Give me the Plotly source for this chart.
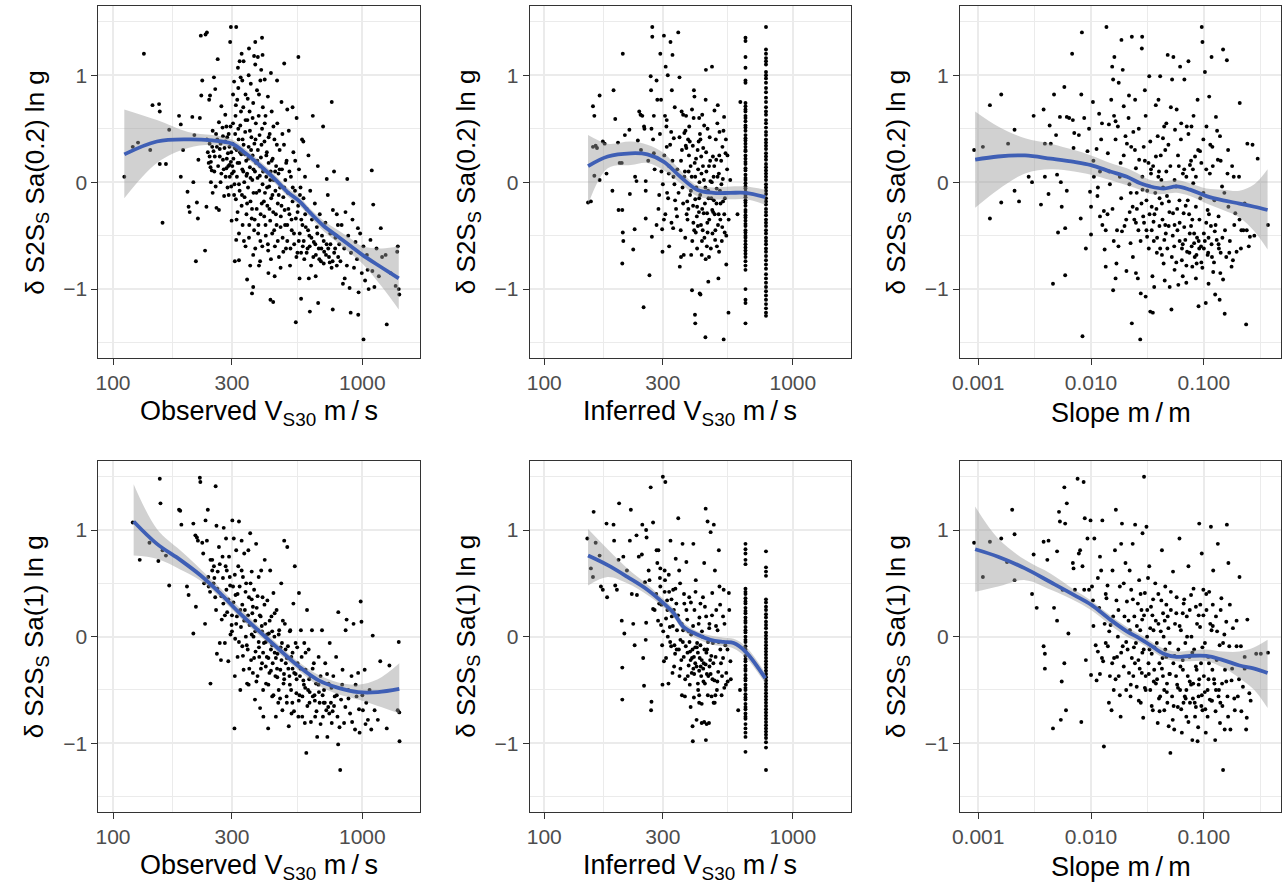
import plotly.graph_objects as go

FONT = "Liberation Sans, Arial, Helvetica, sans-serif"

# ---------------- Panel 1: Observed Vs30 vs dS2S Sa(0.2) ----------------
p1_pts = [
 (111,0.05),(120,0.33),(126,0.37),(133,1.20),(141,0.30),(144,0.72),(153,0.73),(154,0.66),(154,0.17),(163,0.17),
 (158,-0.38),(168,0.49),(184,0.62),(187,0.54),(187,0.05),(191,0.30),(199,-0.09),(201,-0.23),(203,-0.28),(208,0.61),
 (210,0.00),(212,0.44),(215,-0.74),(217,-0.19),(219,-0.34),(220,0.21),(223,0.60),(225,1.37),(235,1.38),(238,1.40),
 (228,0.95),(226,0.81),(234,-0.64),(237,-0.23),(238,0.40),(240,0.28),(243,0.77),(245,0.81),(246,0.14),(251,-0.10),
 (254,0.98),(257,0.87),(263,1.15),(260,-0.24),(266,-0.26),(268,0.31),(272,0.71),(275,0.51),(279,-0.13),(282,0.63),
 (285,0.52),(288,-0.05),(290,0.15),(293,0.16),(295,1.31),(297,1.45),(312,1.45),(299,-0.36),(303,0.82),(306,0.94),
 (308,-0.74),(320,-0.73),(312,-0.54),(315,0.77),(317,1.07),(322,1.13),(328,1.20),(334,1.13),(345,-0.91),(351,1.25),
 (361,-1.04),(365,-0.98),(372,1.31),(396,1.35),(398,1.19),(381,1.17),(406,0.96),(389,-0.74),(428,-1.10),(439,-1.12),
 (486,1.11),(554,1.17),(541,-1.31),(568,-1.09),(616,-1.21),(665,-1.13),(761,-1.19),(754,0.75),(898,-1.22),(963,-1.24),
 (1011,-1.47),(1091,0.11),(1106,-0.21),(1186,-0.43),(1253,-1.33),(1388,-0.60),(1407,-1.05),
 (242,0.18),(244,0.24),(247,0.19),(249,0.11),(253,0.29),(256,0.24),(261,0.33),(264,0.15),(268,0.24),(272,0.08),
 (276,0.21),(280,0.32),(285,0.13),(289,0.27),(293,0.33),(297,0.19),(300,0.08),(244,0.36),(251,0.48),(259,0.45),
 (266,0.56),(276,0.43),(287,0.42),(296,0.52),(247,0.00),(258,-0.04),(270,0.00),(283,0.05),(291,-0.12),(298,-0.04),
 (302,0.36),(304,0.22),(305,0.10),(307,-0.02),(309,0.45),(310,0.62),(311,-0.16),(313,0.30),(314,0.05),(316,-0.28),
 (318,0.88),(319,0.40),(321,0.18),(322,-0.08),(324,0.53),(325,0.98),(327,0.26),(328,-0.22),(330,0.12),(331,-0.40),
 (333,0.70),(334,0.35),(336,0.00),(337,-0.14),(339,0.47),(340,0.82),(342,0.20),(343,-0.30),(345,0.08),(346,0.58),
 (348,-0.05),(350,0.33),(351,-0.52),(353,0.66),(354,0.14),(356,-0.18),(357,0.92),(359,0.42),(360,-0.34),(362,0.02),
 (363,0.25),(365,0.74),(366,-0.10),(368,-0.45),(369,0.36),(371,0.10),(372,-0.62),(374,0.55),(375,0.18),(377,-0.25),
 (378,0.86),(380,0.04),(381,0.30),(383,-0.40),(384,0.62),(386,-0.08),(387,0.44),(389,0.15),(390,-0.55),(392,0.23),
 (393,1.05),(395,-0.20),(396,0.50),(398,-0.02),(399,0.70),(365,-0.68),(340,-0.60),(320,-0.48),(355,-0.78),(385,-0.78),
 (330,0.95),(350,1.00),(372,1.10),(390,0.95),
 (402,0.12),(404,-0.32),(405,0.38),(407,-0.10),(409,0.62),(410,-0.50),(412,0.05),(414,0.28),(416,-0.22),(418,0.80),
 (419,-0.64),(421,0.18),(423,-0.04),(425,0.45),(427,-0.36),(429,0.10),(431,-0.15),(433,0.66),(435,-0.48),(437,0.22),
 (439,-0.28),(441,0.02),(444,0.40),(446,-0.60),(448,-0.08),(451,0.15),(453,-0.40),(456,0.55),(458,-0.20),(461,0.08),
 (463,-0.70),(466,0.30),(468,-0.05),(471,-0.32),(474,0.75),(476,0.12),(479,-0.52),(482,-0.14),(485,0.35),(488,-0.26),
 (491,0.02),(494,-0.62),(497,0.20),(500,-0.40),(503,-0.10),(507,0.48),(510,-0.30),(513,-0.78),(517,0.05),(521,-0.45),
 (525,-0.18),(529,0.28),(533,-0.58),(537,-0.08),(541,-0.34),(545,0.60),(549,-0.66),(420,-0.85),(445,-0.88),(470,-0.80),
 (500,0.68),(525,0.70),(455,0.95),(430,1.02),
 (553,-0.22),(557,0.12),(561,-0.48),(565,-0.05),(569,-0.35),(573,0.40),(577,-0.60),(581,-0.15),(585,-0.72),(589,0.05),
 (593,-0.42),(598,-0.25),(603,-0.62),(608,0.25),(613,-0.50),(618,-0.08),(623,-0.78),(628,-0.35),(633,0.62),(639,-0.56),
 (645,-0.20),(651,-0.68),(657,-0.42),(663,0.15),(669,-0.62),(675,-0.30),(682,-0.74),(689,-0.50),(696,0.52),(703,-0.65),
 (711,-0.38),(719,-0.58),(727,-0.12),(735,-0.70),(744,-0.48),(753,-0.80),(762,-0.26),(771,-0.66),(780,-0.52),(790,-0.78),
 (798,-0.40),(610,-0.90),(650,-0.88),(700,-0.76),(740,-0.75),(770,0.10),(790,-0.30),(560,-0.90),(580,0.38),(720,0.03),
 (808,-0.58),(817,-0.74),(826,-0.40),(836,-0.95),(846,-0.62),(856,-0.28),(867,-0.78),(878,-0.50),(889,-0.99),(901,-0.66),
 (913,-0.35),(926,-0.80),(939,-0.56),(952,-0.72),(966,-1.03),(980,-0.48),(995,-0.85),(1010,-0.60),(1026,-0.92),(1043,-0.68),
 (1060,-1.00),(1078,-0.54),(1097,-0.83),(1118,-0.98),(1140,-0.62),(1165,-0.88),(1200,-0.70),(1240,-0.68),(1300,-0.85),(1360,-0.97),
 (1400,-1.00),(1380,-0.65),(1050,-0.82),(850,-0.90),(920,-0.20),(870,0.03),(960,-0.43),
]
p1_more = [
 (282,0.38),(286,0.22),(291,0.45),(294,0.05),(298,0.28),(301,0.15),(303,0.55),(306,-0.12),(308,0.32),(311,0.72),
 (313,-0.35),(316,0.18),(318,0.50),(320,-0.02),(323,0.28),(326,0.66),(329,-0.12),(331,0.40),(333,0.10),(335,-0.55),
 (338,0.26),(340,0.58),(343,0.06),(345,-0.20),(347,0.78),(349,0.22),(352,-0.40),(354,0.48),(356,0.04),(358,0.30),
 (361,-0.25),(363,0.60),(366,0.12),(368,1.18),(370,-0.35),(373,0.40),(376,-0.10),(379,0.20),(382,-0.48),(385,0.82),
 (388,0.06),(391,-0.30),(394,0.35),(397,-0.60),(400,0.10),(403,-0.18),(406,0.55),(409,-0.40),(412,0.25),(415,-0.05),
 (418,-0.58),(421,0.42),(424,-0.25),(427,0.02),(430,-0.72),(433,0.20),(436,-0.12),(440,0.52),(443,-0.45),(447,0.10),
 (450,-0.30),(454,0.35),(458,-0.55),(462,-0.12),(466,0.12),(470,-0.42),(474,-0.22),(478,0.45),(482,-0.65),(486,-0.05),
 (490,-0.40),(495,0.18),(500,-0.55),(505,-0.25),(510,0.10),(515,-0.62),(520,-0.35),(526,-0.05),(532,-0.48),(538,0.20),
 (544,-0.70),(550,-0.28),(556,-0.55),(562,-0.12),(568,-0.66),(575,-0.40),(582,-0.55),(590,-0.30),(598,-0.66),(606,-0.45),
 (615,-0.60),(625,-0.52),(636,-0.70),(648,-0.58),(660,-0.48),(672,-0.72),(685,-0.62),(700,-0.55),(715,-0.68),(730,-0.62),
 (745,-0.58),(760,-0.74),(778,-0.62),(800,-0.70),(262,0.40),(270,0.36),(278,0.12),(255,0.10),(250,0.33),
]
p1_fit_x = [111, 150, 200, 250, 300, 340, 400, 450, 500, 560, 620, 700, 800, 900, 1000, 1200, 1400]
p1_fit = [0.26, 0.38, 0.40, 0.39, 0.36, 0.27, 0.13, 0.02, -0.09, -0.18, -0.29, -0.41, -0.51, -0.60, -0.68, -0.80, -0.90]
p1_hi = [0.68, 0.58, 0.47, 0.44, 0.40, 0.31, 0.17, 0.06, -0.05, -0.14, -0.25, -0.36, -0.45, -0.53, -0.60, -0.62, -0.60]
p1_lo = [-0.15, 0.18, 0.32, 0.35, 0.32, 0.23, 0.09, -0.02, -0.13, -0.22, -0.33, -0.46, -0.57, -0.67, -0.76, -0.98, -1.19]

# ---------------- Panel 2: Inferred Vs30 vs dS2S Sa(0.2) ----------------
p2_pts = [
 (150,-0.19),(154,-0.18),(157,0.71),(159,0.62),(157,0.33),(161,0.34),(163,0.32),(159,0.06),(167,0.02),(167,0.81),
 (172,0.38),(175,0.36),(178,0.08),(188,-0.08),(190,0.86),(193,0.59),(198,0.37),(199,-0.26),(201,0.18),(205,0.18),
 (206,-0.26),(207,1.20),(207,-0.47),(208,-0.55),(206,-0.76),(211,0.44),(220,0.49),(221,-0.11),(228,-0.63),(231,-0.44),
 (235,0.01),(238,0.39),(241,0.66),(244,0.63),(248,0.62),(252,0.52),(253,0.50),(251,-1.17),(256,0.01),(256,-0.08),
 (256,-0.34),(265,-0.87),(268,0.99),(269,0.86),(270,0.50),(271,-0.51),(272,1.45),(272,1.36),(274,0.40),(276,0.27),
 (278,0.12),(283,0.95),(285,0.77),(288,-0.25),(290,-0.12),(293,1.20),(295,0.77),(298,-0.44),(299,-0.65),(303,1.37),
 (303,-0.35),(306,0.62),(308,1.08),(310,0.52),(311,0.33),(312,-0.10),(314,1.00),(317,0.08),(318,-0.60),(322,1.31),
 (324,0.47),(326,0.86),(328,1.19),(330,-0.43),(332,0.41),(334,-0.02),(336,-0.17),(342,-0.32),(346,1.40),(350,0.98),
 (351,-0.79),(355,-0.70),(357,0.66),(362,0.63),(364,-0.68),(366,0.46),(371,0.34),(373,0.32),(376,-0.18),(379,0.40),
 (383,0.52),(388,0.15),(390,-0.68),(393,-1.01),(396,0.34),(399,0.60),(400,0.86),(402,0.80),(404,-1.24),(405,-1.32),
 (405,-0.16),(407,-0.47),(412,-0.23),(415,-0.41),(418,0.38),(421,0.00),(422,-1.04),(425,-1.05),(425,0.40),(428,0.24),
 (431,-0.55),(432,0.63),(435,0.15),(438,-0.29),(440,0.53),(445,-1.45),(446,0.77),(447,1.05),(452,-0.29),(454,-0.47),
 (457,-0.93),(460,0.15),(466,0.01),(473,1.08),(474,-0.26),(477,0.24),(481,-0.17),(484,0.67),(487,-0.54),(492,0.21),
 (495,-0.60),(498,0.05),(499,0.72),(502,-0.90),(504,0.08),(507,0.47),(511,-0.35),(516,-0.02),(521,0.33),(524,-0.18),
 (527,-1.47),(529,0.61),(532,-0.47),(536,0.27),(540,-0.77),(544,0.12),(551,-1.22),(599,-0.30),(615,0.75),
 (355,0.20),(360,-0.05),(368,0.10),(374,-0.30),(382,0.25),(386,-0.12),(392,0.05),(398,-0.38),(403,0.18),(409,-0.05),
 (414,0.30),(419,-0.28),(424,-0.12),(429,0.08),(434,-0.45),(439,0.02),(443,-0.20),(448,0.28),(451,-0.60),(456,-0.08),
 (461,-0.35),(465,0.20),(470,-0.15),(475,-0.48),(480,0.05),(485,-0.30),(490,0.40),(494,-0.06),(500,-0.40),(506,0.25),
 (512,-0.20),(518,-0.55),(523,0.03),(530,-0.30),(538,0.40),(412,-0.62),(430,-0.68),(446,-0.72),(460,-0.70),(394,-0.55),
 (380,-0.25),(370,0.48),(420,0.60),(454,0.50),(505,-0.65),
]
p2_more = [
 (292,0.45),(296,0.10),(300,-0.02),(304,0.25),(307,-0.30),(311,0.58),(315,-0.15),(318,0.15),(321,0.35),(325,-0.38),
 (328,0.20),(331,0.05),(335,0.70),(339,-0.25),(343,0.12),(347,-0.10),(350,0.42),(354,-0.45),(358,0.30),(362,-0.20),
 (366,0.05),(369,-0.52),(372,0.62),(377,-0.35),(381,0.10),(385,0.38),(389,-0.08),(393,0.68),(397,-0.22),(401,-0.45),
 (405,0.05),(408,0.22),(411,-0.32),(416,0.12),(420,-0.15),(423,0.45),(427,-0.40),(432,-0.25),(436,0.32),(441,-0.52),
 (445,-0.05),(449,0.10),(453,-0.38),(458,-0.15),(463,0.42),(468,-0.62),(472,0.00),(478,-0.28),(483,0.15),(488,-0.45),
 (493,-0.20),(497,0.55),(503,-0.30),(509,-0.08),(515,0.20),(520,-0.42),(526,0.48),(533,-0.15),(540,-0.50),(546,0.25),
 (552,-0.35),(560,0.02),(276,0.62),(283,-0.40),(262,0.20),(245,0.30),(232,0.05),
]
inferred_levels = [645, 780]
p2_col1_y = [1.35,1.32,1.17,1.07,0.95,0.93,0.74,0.71,0.68,0.66,0.62,0.60,0.57,0.53,0.51,0.48,0.44,0.41,0.39,0.36,
             0.33,0.30,0.29,0.25,0.22,0.19,0.17,0.13,0.11,0.07,0.04,0.02,-0.01,-0.04,-0.06,-0.09,-0.12,-0.14,-0.17,-0.19,
             -0.22,-0.26,-0.28,-0.31,-0.33,-0.36,-0.39,-0.41,-0.45,-0.47,-0.50,-0.52,-0.55,-0.58,-0.61,-0.64,-0.67,-0.70,-0.74,-0.78,
             -0.82,-1.00,-1.10,-1.13,-1.32]
p2_col2_y = [1.45,1.24,1.20,1.16,1.13,1.10,1.03,1.00,0.97,0.93,0.88,0.84,0.79,0.75,0.70,0.66,0.63,0.58,0.55,0.51,
             0.47,0.44,0.40,0.37,0.34,0.31,0.27,0.24,0.21,0.17,0.14,0.11,0.08,0.05,0.02,-0.02,-0.05,-0.08,-0.11,-0.15,
             -0.18,-0.21,-0.25,-0.28,-0.31,-0.35,-0.38,-0.41,-0.45,-0.48,-0.52,-0.55,-0.58,-0.62,-0.65,-0.69,-0.73,-0.77,-0.81,-0.86,
             -0.90,-0.94,-0.98,-1.02,-1.06,-1.10,-1.14,-1.18,-1.22,-1.25]
p2_fit_x = [150, 180, 223, 260, 303, 353, 412, 480, 561, 645, 775]
p2_fit = [0.15, 0.24, 0.27, 0.26, 0.19, 0.05, -0.07, -0.10, -0.10, -0.10, -0.14]
p2_hi = [0.44, 0.36, 0.38, 0.35, 0.27, 0.11, -0.03, -0.05, -0.04, -0.04, -0.07]
p2_lo = [-0.21, 0.13, 0.16, 0.18, 0.11, -0.01, -0.13, -0.16, -0.16, -0.16, -0.21]

# ---------------- Panel 3: Slope vs dS2S Sa(0.2) ----------------
p3_pts = [
 (0.00092,0.30),(0.0011,0.33),(0.00127,0.72),(0.00127,-0.34),(0.0016,0.82),(0.0016,-0.19),(0.00184,0.36),(0.0021,0.49),(0.0021,-0.08),(0.0023,-0.18),
 (0.0028,0.05),(0.003,0.0),(0.0031,0.62),(0.0036,-0.21),(0.0038,0.68),(0.0039,0.36),(0.0039,0.05),(0.0042,-0.11),(0.0043,0.53),(0.0044,0.36),
 (0.0046,-0.95),(0.0047,0.82),(0.0049,0.44),(0.005,0.07),(0.0051,-0.47),(0.0053,0.61),(0.0054,0.0),(0.0055,-0.23),(0.0058,0.89),(0.0059,-0.43),
 (0.0059,-0.87),(0.0061,0.61),(0.0061,-0.08),(0.0064,0.60),(0.0068,1.20),(0.0069,0.58),(0.007,0.32),(0.0071,0.46),(0.0078,0.44),(0.0081,-0.34),
 (0.0082,0.82),(0.0083,1.40),(0.0084,-1.44),(0.0087,0.60),(0.009,-0.62),(0.0093,0.29),(0.0096,0.50),(0.0098,-0.09),(0.01,-0.49),(0.01,-0.23),
 (0.0104,0.75),(0.0106,0.05),(0.0112,0.31),(0.0114,-0.13),(0.0118,0.64),(0.012,-0.32),(0.0123,0.40),(0.0126,-0.40),(0.013,-0.27),(0.0132,-0.63),
 (0.0135,-0.79),(0.0137,1.45),(0.0141,0.27),(0.0144,0.54),(0.0147,-0.02),(0.0151,0.77),(0.0154,1.08),(0.0157,-1.01),(0.0157,0.96),(0.0159,-0.55),
 (0.0161,1.17),(0.0165,0.57),(0.0168,-0.76),(0.017,-0.45),(0.0173,0.52),(0.0176,0.93),(0.0183,0.18),(0.0186,1.33),(0.0188,-0.46),(0.0191,1.05),
 (0.0195,0.71),(0.0198,-0.41),(0.0202,0.43),(0.0206,-0.83),(0.0208,0.36),(0.0217,0.81),(0.0219,-0.02),(0.0224,-0.57),(0.0227,0.33),(0.023,1.36),
 (0.023,-1.32),(0.0234,-0.23),(0.0237,0.47),(0.0242,-0.35),(0.0246,0.77),(0.025,0.13),(0.0254,-0.10),(0.026,-0.90),(0.0263,-0.45),(0.0267,0.21),
 (0.0273,-1.47),(0.0276,-1.04),(0.0282,1.25),(0.0284,1.36),(0.0286,-0.07),(0.029,-0.32),(0.0293,0.33),(0.03,0.86),(0.0305,-1.07),(0.031,-0.17),
 (0.0314,-0.51),(0.0323,0.18),(0.0328,0.99),(0.0335,-1.21),(0.034,0.08),(0.0345,-0.23),(0.0353,-1.22),(0.0358,-0.37),(0.0363,-0.98),(0.0371,-0.10),
 (0.0376,0.24),(0.0383,-0.66),(0.039,0.43),(0.0396,0.77),(0.0404,-0.41),(0.041,0.99),(0.042,0.02),(0.0425,-0.20),(0.0434,0.41),(0.044,-0.76),
 (0.0446,-0.54),(0.0455,0.30),(0.0465,0.55),(0.0471,-0.13),(0.0478,1.19),(0.0488,-0.41),(0.0498,-0.98),(0.0505,0.15),(0.0516,-1.19),(0.0523,0.96),
 (0.0533,-0.29),(0.0537,1.17),(0.0546,-0.60),(0.0555,0.49),(0.0567,-0.04),(0.0574,0.68),(0.0583,-0.45),(0.0594,-0.96),(0.0608,-0.17),(0.0616,1.08),
 (0.0626,0.40),(0.0638,-0.73),(0.0652,0.08),(0.0662,-0.29),(0.0672,0.96),(0.0685,-0.54),(0.0699,-0.94),(0.0706,0.52),(0.072,-0.17),(0.073,1.13),
 (0.0745,-0.66),(0.0753,0.16),(0.077,-0.41),(0.0777,0.52),(0.079,-0.79),(0.0805,-0.01),(0.082,-0.57),(0.0835,0.24),(0.085,-0.23),(0.0863,-0.76),
 (0.088,0.77),(0.0897,-1.16),(0.0914,-0.35),(0.0925,0.29),(0.0944,-0.60),(0.0958,1.45),(0.0972,1.31),(0.099,-0.10),(0.1,-0.48),(0.1022,1.03),
 (0.104,-1.13),(0.1055,0.52),(0.108,-0.26),(0.1092,-0.66),(0.1115,0.80),(0.113,0.08),(0.1155,-0.41),(0.117,1.17),(0.119,0.33),(0.121,-0.84),
 (0.124,-0.17),(0.126,-1.05),(0.128,0.61),(0.130,-0.54),(0.133,0.21),(0.135,-0.32),(0.138,-1.10),(0.139,0.43),(0.141,-0.66),(0.145,-0.04),
 (0.148,1.24),(0.148,-0.91),(0.153,-1.23),(0.154,-0.45),(0.160,1.14),(0.162,0.08),(0.165,-0.23),(0.168,-0.66),(0.176,-0.79),(0.181,-0.73),
 (0.184,0.05),(0.190,-0.29),(0.207,-0.35),(0.208,0.74),(0.213,-0.62),(0.224,-0.45),(0.237,-1.33),(0.24,-0.45),(0.243,0.36),(0.256,-0.51),
 (0.27,0.35),(0.30,0.22),(0.37,-0.40),
 (0.022,-0.28),(0.025,-0.38),(0.028,-0.20),(0.031,-0.45),(0.033,-0.30),(0.036,-0.55),(0.038,-0.25),(0.041,-0.62),(0.043,-0.35),(0.046,-0.48),
 (0.049,-0.18),(0.052,-0.70),(0.055,-0.40),(0.058,-0.25),(0.061,-0.55),(0.064,-0.62),(0.067,-0.42),(0.070,-0.78),(0.074,-0.30),(0.078,-0.60),
 (0.082,-0.48),(0.086,-0.68),(0.090,-0.55),(0.095,-0.75),(0.100,-0.62),(0.105,-0.38),(0.110,-0.52),(0.118,-0.70),(0.125,-0.46),(0.135,-0.58),
 (0.030,0.20),(0.034,0.12),(0.040,0.10),(0.060,0.15),(0.070,0.05),(0.080,0.12),
]
p3_more = [
 (0.0105,0.20),(0.0115,-0.05),(0.0125,0.55),(0.0135,-0.45),(0.0145,0.10),(0.0155,-0.25),(0.0165,0.40),(0.0175,-0.60),(0.0185,-0.15),(0.0195,0.25),
 (0.0205,-0.35),(0.0215,0.60),(0.0225,-0.10),(0.0235,-0.70),(0.0245,0.30),(0.0255,-0.25),(0.0265,0.50),(0.0275,-0.55),(0.0285,0.05),(0.0295,-0.38),
 (0.0305,0.62),(0.0315,-0.08),(0.0325,-0.62),(0.0335,0.38),(0.0345,-0.45),(0.0355,0.15),(0.0365,-0.30),(0.0375,0.72),(0.0385,-0.52),(0.0395,0.05),
 (0.0405,-0.15),(0.0415,0.25),(0.0425,-0.68),(0.0435,-0.05),(0.0445,0.52),(0.0455,-0.40),(0.0465,0.10),(0.0475,-0.62),(0.0485,0.35),(0.0495,-0.28),
 (0.051,0.70),(0.053,-0.50),(0.055,0.02),(0.057,-0.75),(0.059,0.25),(0.061,-0.38),(0.063,0.55),(0.065,-0.58),(0.067,0.12),(0.069,-0.22),
 (0.071,-0.65),(0.073,0.45),(0.075,-0.48),(0.077,0.20),(0.079,-0.35),(0.081,0.62),(0.083,-0.70),(0.085,0.05),(0.087,-0.52),(0.089,0.30),
 (0.091,-0.62),(0.093,-0.15),(0.095,0.18),(0.097,-0.80),(0.099,0.40),(0.102,-0.55),(0.105,0.12),(0.108,-0.68),(0.111,-0.30),(0.114,0.35),
 (0.117,-0.58),(0.120,0.15),(0.123,-0.75),(0.127,-0.40),(0.131,0.48),(0.136,-0.62),(0.141,0.20),(0.146,-0.52),(0.152,-0.10),(0.158,-0.70),
 (0.164,0.30),(0.170,-0.55),(0.178,0.15),(0.186,-0.40),(0.195,-0.65),(0.205,0.05),(0.215,-0.45),(0.23,-0.20),(0.25,-0.60),(0.28,-0.50),
 (0.018,0.05),(0.016,0.62),(0.014,-0.30),(0.012,0.10),(0.0165,-0.90),(0.025,-0.85),(0.035,-0.88),(0.045,-0.92),(0.055,-0.82),(0.065,-0.88),
 (0.085,-0.90),(0.11,-0.95),(0.14,-0.85),
]
p3_fit_x = [0.00094, 0.0015, 0.0026, 0.0044, 0.0071, 0.01, 0.0148, 0.0208, 0.0273, 0.0335, 0.044, 0.0574, 0.0752, 0.1055, 0.148, 0.207, 0.28, 0.367]
p3_fit = [0.21, 0.24, 0.25, 0.22, 0.19, 0.16, 0.10, 0.05, -0.01, -0.04, -0.06, -0.04, -0.07, -0.13, -0.17, -0.20, -0.23, -0.26]
p3_hi = [0.66, 0.52, 0.41, 0.36, 0.30, 0.25, 0.18, 0.13, 0.07, 0.02, 0.01, 0.02, -0.01, -0.06, -0.07, -0.08, -0.02, 0.12]
p3_lo = [-0.24, -0.07, 0.08, 0.12, 0.10, 0.07, 0.02, -0.03, -0.07, -0.11, -0.11, -0.10, -0.13, -0.20, -0.26, -0.33, -0.46, -0.63]

# ---------------- Panel 4: Observed Vs30 vs dS2S Sa(1) ----------------
p4_pts = [
 (120,1.07),(128,0.72),(140,0.88),(152,0.71),(154,1.48),(155,1.25),(158,0.81),(163,0.76),(168,0.48),(184,1.19),
 (186,1.18),(188,1.05),(198,0.47),(201,0.39),(210,1.06),(210,0.03),(214,0.95),(215,0.28),(217,0.93),(219,0.90),
 (223,1.49),(224,1.45),(228,0.88),(230,0.78),(232,0.50),(234,0.12),(235,1.09),(238,0.90),(240,1.19),(241,0.56),
 (242,0.47),(245,0.42),(246,-0.44),(246,0.72),(250,0.62),(253,0.50),(254,0.66),(257,0.37),(258,1.41),(259,0.25),
 (260,1.04),(261,-0.16),(263,0.61),(266,0.84),(268,-0.06),(271,-0.22),(273,0.16),(275,0.75),(277,0.31),(278,1.02),
 (281,-0.06),(283,0.66),(284,0.92),(285,0.44),(287,0.23),(290,-0.23),(292,0.75),(294,0.56),(296,0.02),(299,0.11),
 (301,1.09),(303,0.47),(305,0.92),(307,-0.86),(308,-0.37),(309,-0.02),(310,0.39),(312,0.81),(314,0.19),(316,-0.19),
 (318,0.66),(320,1.08),(322,0.47),(324,-0.50),(326,0.09),(328,0.90),(330,-0.09),(332,0.56),(334,-0.31),(336,0.78),
 (338,0.25),(341,0.00),(342,0.50),(345,-0.44),(347,-0.12),(349,0.81),(351,0.37),(353,0.11),(355,0.97),(358,-0.22),
 (360,0.61),(362,0.22),(364,-0.34),(366,0.00),(368,0.44),(371,-0.59),(373,-0.14),(375,0.87),(377,0.27),(380,-0.37),
 (382,0.06),(384,0.56),(386,-0.19),(389,-0.67),(391,0.19),(393,0.62),(396,-0.25),(398,0.37),(401,-0.75),(403,-0.06),
 (406,0.72),(408,0.12),(411,-0.44),(414,-0.19),(416,0.34),(419,-0.86),(422,0.03),(424,-0.34),(427,0.62),(430,-0.12),
 (432,0.19),(435,-0.56),(437,-0.25),(440,0.41),(444,0.00),(448,-0.37),(450,-0.75),(453,0.25),(457,-0.16),(462,-0.50),
 (464,0.06),(469,-0.31),(473,0.50),(476,-0.06),(478,-0.69),(483,-0.44),(486,0.90),(489,0.12),(493,-0.25),(497,-0.56),
 (500,0.84),(503,-0.09),(507,-0.84),(510,-0.37),(514,0.06),(519,-0.19),(524,-0.62),(529,0.31),(533,-0.34),(536,0.66),
 (540,-0.06),(544,-0.53),(550,-0.25),(554,-0.75),(557,0.41),(562,-0.37),(567,0.06),(571,-0.19),(575,-0.56),(580,-0.41),
 (585,-0.06),(588,-0.81),(592,-0.31),(596,-1.09),(600,0.25),(606,-0.50),(609,-0.12),(614,-0.62),(620,-0.37),(628,0.06),
 (633,-0.56),(639,-0.25),(647,-0.75),(652,-0.44),(659,-0.94),(668,-0.19),(674,-0.62),(680,-0.37),(689,0.06),(695,-0.75),
 (702,-0.50),(710,-0.25),(717,-0.69),(724,-0.94),(732,-0.44),(740,-0.06),(748,-0.62),(754,-0.81),(765,-0.37),(775,-0.56),
 (785,-0.19),(795,-0.75),(800,-1.01),(801,0.23),(815,-1.25),(822,-0.59),(833,-0.31),(845,-0.81),(857,0.06),(865,0.16),
 (878,-0.50),(893,-0.72),(905,-0.37),(922,0.12),(935,-0.87),(948,-0.56),(962,-0.34),(975,-0.90),(985,0.33),(992,0.14),
 (1005,-0.69),(1022,-0.31),(1037,-0.62),(1053,-0.78),(1069,-0.50),(1086,-0.87),(1101,0.01),(1120,-0.69),(1154,-0.78),(1180,-0.23),
 (1253,-0.86),(1284,-0.27),(1386,-0.69),(1400,-0.05),(1410,-0.98),(1407,-0.71),
 (330,0.30),(345,0.15),(360,0.35),(372,0.05),(385,-0.10),(395,0.10),(410,-0.05),(420,-0.20),(435,0.05),(445,-0.15),
 (455,-0.30),(470,-0.10),(485,-0.35),(498,-0.20),(512,-0.45),(525,-0.30),(545,-0.40),(560,-0.55),(590,-0.48),(615,-0.52),
 (645,-0.60),(670,-0.52),(700,-0.62),(730,-0.66),(760,-0.70),(350,-0.45),(400,-0.50),(460,-0.62),(520,-0.72),(300,0.20),
]
p4_more = [
 (250,0.72),(255,0.55),(262,0.45),(268,0.68),(272,0.38),(276,0.55),(281,0.20),(286,0.62),(290,0.35),(295,0.48),
 (300,0.05),(304,0.32),(308,0.58),(312,0.12),(316,0.40),(320,-0.05),(324,0.25),(328,0.62),(332,-0.18),(336,0.15),
 (340,0.42),(344,-0.08),(348,0.20),(352,-0.30),(356,0.50),(360,0.02),(364,0.28),(368,-0.20),(372,0.15),(376,-0.42),
 (380,0.38),(384,-0.05),(388,0.20),(392,-0.30),(396,0.05),(400,-0.15),(405,0.30),(410,-0.28),(415,0.02),(420,-0.45),
 (425,0.15),(430,-0.32),(435,-0.08),(440,-0.55),(445,0.22),(450,-0.20),(456,-0.38),(462,0.02),(468,-0.58),(474,-0.22),
 (480,0.15),(486,-0.40),(492,-0.12),(498,-0.62),(505,-0.30),(512,0.05),(518,-0.50),(525,-0.15),(532,-0.70),(540,-0.35),
 (548,-0.10),(556,-0.60),(565,-0.30),(574,-0.75),(583,-0.45),(592,-0.15),(602,-0.65),(612,-0.40),(622,-0.80),(632,-0.30),
 (643,-0.55),(655,-0.70),(667,-0.45),(680,-0.82),(693,-0.55),(707,-0.62),(722,-0.35),(737,-0.72),(752,-0.48),(770,-0.65),
 (790,-0.55),(810,-0.85),(830,-0.45),(855,-0.66),(880,-0.58),(910,-0.80),(940,-0.45),(970,-0.68),(1000,-0.55),(1030,-0.82),
]
p4_fit_x = [121, 150, 186, 223, 268, 322, 386, 464, 557, 668, 801, 962, 1154, 1407]
p4_fit = [1.08, 0.87, 0.72, 0.58, 0.41, 0.22, 0.05, -0.12, -0.28, -0.41, -0.48, -0.52, -0.52, -0.49]
p4_hi = [1.43, 1.01, 0.81, 0.64, 0.46, 0.27, 0.09, -0.08, -0.24, -0.36, -0.43, -0.45, -0.40, -0.25]
p4_lo = [0.76, 0.73, 0.63, 0.53, 0.37, 0.18, 0.01, -0.16, -0.32, -0.46, -0.54, -0.59, -0.65, -0.72]

# ---------------- Panel 5: Inferred Vs30 vs dS2S Sa(1) ----------------
p5_pts = [
 (149,0.92),(154,0.64),(157,0.56),(158,1.17),(161,0.88),(167,0.76),(169,0.47),(172,0.44),(178,1.06),(179,0.37),
 (190,1.05),(191,0.90),(193,0.48),(196,0.44),(199,0.72),(200,1.25),(205,0.15),(206,-0.59),(206,-0.29),(208,0.75),
 (210,0.03),(221,0.90),(223,1.19),(228,0.12),(231,-0.08),(235,0.95),(236,0.39),(247,0.77),(248,1.05),(250,-0.20),
 (252,-0.46),(254,0.51),(256,-0.03),(257,1.00),(257,0.13),(258,0.93),(265,0.53),(268,1.40),(269,-0.69),(270,-0.61),
 (274,1.07),(274,0.26),(278,0.25),(283,0.81),(285,0.69),(288,0.81),(290,0.31),(293,0.47),(293,0.64),(295,0.11),
 (298,-0.08),(299,-0.45),(300,1.50),(303,-0.23),(305,0.62),(306,0.53),(307,1.45),(309,0.17),(312,0.34),(314,0.00),
 (316,-0.44),(318,0.42),(320,0.09),(322,0.90),(324,-0.09),(326,0.19),(328,-0.34),(330,0.44),(332,0.25),(334,-0.08),
 (336,-0.16),(338,0.73),(340,0.31),(342,0.06),(346,1.11),(348,-0.12),(350,-0.37),(352,0.50),(353,-0.03),(356,-0.22),
 (358,-0.55),(360,0.87),(362,0.06),(364,-0.19),(366,0.31),(368,-0.56),(371,-0.09),(373,0.70),(376,0.16),(378,-0.37),
 (381,-0.27),(383,0.37),(386,-0.14),(388,-0.66),(390,0.02),(392,-0.34),(395,-0.84),(396,-0.98),(398,0.87),(400,-0.19),
 (402,0.25),(405,-0.25),(407,0.53),(410,-0.78),(412,-0.06),(415,-0.44),(418,0.12),(420,-0.62),(422,-0.20),(425,0.31),
 (428,-0.37),(430,-0.81),(433,0.00),(435,0.37),(438,-0.25),(440,0.69),(443,-0.44),(446,1.20),(447,-0.97),(448,0.19),
 (452,-0.12),(454,1.08),(457,-0.37),(460,-0.81),(462,0.12),(465,-0.22),(467,0.98),(471,-0.56),(474,0.41),(477,-0.06),
 (481,1.05),(484,-0.41),(486,0.62),(489,-0.19),(492,0.25),(495,-0.50),(498,0.06),(501,-0.33),(504,0.81),(507,0.47),
 (511,-0.12),(514,-0.25),(519,-0.37),(524,0.19),(527,0.44),(530,-0.48),(535,-0.08),(540,-0.34),(547,-0.42),(553,0.41),
 (561,-0.23),(603,-0.69),(613,-0.50),
 (405,-0.10),(410,-0.28),(415,-0.15),(420,-0.32),(425,-0.08),(430,-0.22),(436,-0.30),(441,-0.12),(446,-0.26),(451,-0.35),
 (456,-0.05),(462,-0.28),(395,-0.12),(398,-0.30),(388,-0.22),(384,-0.05),(470,-0.18),(475,-0.40),(480,-0.62),(488,-0.55),
 (420,-0.55),(400,-0.57),(430,-0.63),(450,-0.82),(440,-0.80),
]
p5_more = [
 (282,0.40),(287,0.15),(292,0.55),(296,0.30),(301,0.05),(305,0.42),(309,-0.20),(313,0.25),(317,0.58),(321,-0.05),
 (325,0.35),(329,0.10),(333,-0.28),(337,0.45),(341,-0.12),(345,0.20),(349,0.62),(353,-0.30),(357,0.12),(361,-0.05),
 (365,0.40),(369,-0.40),(373,0.25),(377,-0.15),(381,0.05),(385,-0.45),(389,0.32),(393,-0.20),(397,0.10),(401,-0.35),
 (406,0.42),(411,-0.10),(416,-0.50),(421,0.18),(426,-0.28),(431,0.05),(437,-0.42),(443,0.28),(449,-0.15),(455,-0.55),
 (461,0.08),(467,-0.35),(473,0.20),(479,-0.25),(485,-0.62),(491,0.10),(497,-0.42),(503,-0.05),(510,0.30),(517,-0.55),
 (524,-0.20),(531,0.12),(538,-0.45),(546,-0.12),(555,0.25),(563,-0.40),(263,0.62),(240,0.75),(225,0.40),(215,0.62),
]
p5_col1_y = [0.87,0.82,0.78,0.72,0.68,0.45,0.42,0.40,0.36,0.33,0.31,0.27,0.24,0.22,0.18,0.15,0.13,0.09,0.06,0.04,
             0.00,-0.03,-0.05,-0.09,-0.12,-0.14,-0.18,-0.21,-0.23,-0.27,-0.30,-0.32,-0.36,-0.39,-0.41,-0.45,-0.48,-0.50,-0.54,-0.57,
             -0.59,-0.63,-0.66,-0.68,-0.72,-0.75,-0.77,-0.82,-0.86,-0.90,-0.94,-1.08]
p5_col2_y = [0.80,0.65,0.61,0.57,0.35,0.32,0.28,0.25,0.21,0.18,0.14,0.11,0.08,0.04,0.01,-0.02,-0.05,-0.08,-0.11,-0.14,
             -0.17,-0.20,-0.23,-0.26,-0.29,-0.32,-0.35,-0.38,-0.41,-0.44,-0.47,-0.50,-0.53,-0.56,-0.59,-0.62,-0.65,-0.68,-0.71,-0.74,
             -0.77,-0.80,-0.83,-0.86,-0.89,-0.92,-0.95,-0.99,-1.04,-1.25]
p5_fit_x = [150, 180, 216, 260, 303, 332, 364, 412, 466, 527, 578, 645, 775]
p5_fit = [0.76, 0.67, 0.56, 0.44, 0.31, 0.22, 0.09, 0.02, -0.03, -0.05, -0.06, -0.14, -0.39]
p5_hi = [1.01, 0.82, 0.64, 0.49, 0.35, 0.26, 0.13, 0.05, 0.01, -0.01, -0.02, -0.09, -0.34]
p5_lo = [0.48, 0.56, 0.50, 0.39, 0.27, 0.18, 0.05, -0.02, -0.07, -0.09, -0.11, -0.19, -0.44]

# ---------------- Panel 6: Slope vs dS2S Sa(1) ----------------
p6_pts = [
 (0.00092,0.88),(0.0011,0.56),(0.00127,0.89),(0.0016,0.92),(0.0018,0.70),(0.0020,1.19),(0.0021,0.96),(0.0021,0.53),(0.003,0.40),(0.0031,0.77),
 (0.0033,0.27),(0.0038,0.89),(0.0038,-0.09),(0.0039,-0.16),(0.0039,-0.30),(0.0041,0.72),(0.0042,0.90),(0.0046,-0.86),(0.0047,0.27),(0.005,0.80),
 (0.005,0.15),(0.0052,1.17),(0.0053,1.08),(0.0054,-0.78),(0.0055,-0.42),(0.0056,0.44),(0.0058,-0.25),(0.0058,1.40),(0.0059,1.06),(0.006,-0.69),
 (0.0061,1.25),(0.0063,0.03),(0.0069,0.69),(0.007,0.64),(0.0072,0.44),(0.0076,1.48),(0.0078,0.78),(0.0080,0.81),(0.0082,-0.80),(0.0084,0.66),
 (0.0086,1.45),(0.0087,0.44),(0.0088,1.11),(0.009,-0.22),(0.0093,0.92),(0.0096,0.44),(0.0099,1.09),(0.01,-0.36),(0.0102,0.47),(0.0104,0.34),
 (0.0107,0.92),(0.011,-0.08),(0.0112,-0.41),(0.0115,-0.14),(0.0118,0.27),(0.012,0.75),(0.0123,0.62),(0.0126,1.09),(0.0128,-0.23),(0.013,-1.03),
 (0.0132,0.12),(0.0135,-0.06),(0.0137,0.36),(0.0141,-0.09),(0.0144,-0.62),(0.0147,-0.37),(0.0149,0.11),(0.0152,-0.69),(0.0154,-0.25),(0.0157,0.19),
 (0.0159,-0.50),(0.0163,0.81),(0.0166,1.19),(0.0168,0.34),(0.017,-0.19),(0.0173,0.00),(0.0176,-0.37),(0.018,0.47),(0.0183,-0.75),(0.0185,0.87),
 (0.0188,1.06),(0.0191,-0.09),(0.0195,-0.28),(0.0198,0.19),(0.0202,0.69),(0.0205,-0.50),(0.0208,0.33),(0.0211,-0.12),(0.0217,-0.34),(0.0221,0.06),
 (0.0224,-0.56),(0.0227,0.44),(0.023,-0.20),(0.0234,0.87),(0.0237,-0.37),(0.0242,0.19),(0.0246,1.05),(0.025,-0.06),(0.0254,-0.47),(0.026,0.31),
 (0.0263,-0.22),(0.0267,0.53),(0.0273,0.06),(0.0276,-0.62),(0.0282,-0.34),(0.0284,0.16),(0.0286,0.97),(0.029,-0.76),(0.0293,-0.12),(0.0295,1.50),
 (0.03,0.41),(0.0305,-0.37),(0.031,1.03),(0.0314,0.00),(0.0323,-0.25),(0.0328,0.66),(0.0335,-0.50),(0.034,0.28),(0.0345,-0.16),(0.0353,-0.69),
 (0.0358,0.06),(0.0363,-0.31),(0.0371,0.50),(0.0376,-0.44),(0.0383,-0.06),(0.039,-0.81),(0.0396,0.12),(0.0404,-0.25),(0.041,-0.56),(0.042,0.34),
 (0.0425,0.81),(0.0434,-0.37),(0.044,0.00),(0.0446,-0.69),(0.0455,0.47),(0.0465,-0.19),(0.0471,-0.44),(0.0478,0.19),(0.0488,-0.84),(0.0498,-0.06),
 (0.0505,-1.09),(0.051,0.25),(0.0523,-0.56),(0.0533,0.61),(0.0537,-0.25),(0.0546,-0.87),(0.0555,0.12),(0.0567,-0.37),(0.0574,0.37),(0.0588,-0.66),
 (0.0594,-0.12),(0.0608,0.92),(0.0616,-0.50),(0.0626,0.06),(0.0638,-0.90),(0.0652,-0.31),(0.0662,0.31),(0.0678,-0.56),(0.0685,-0.06),(0.0699,-0.75),
 (0.0706,0.19),(0.072,-0.37),(0.073,0.66),(0.0745,-0.19),(0.0753,-0.62),(0.077,0.39),(0.0777,0.00),(0.079,-0.97),(0.0805,-0.44),(0.082,-0.12),
 (0.0835,-0.75),(0.085,0.28),(0.0863,-0.31),(0.088,-0.98),(0.0897,-0.56),(0.091,1.06),(0.0925,0.09),(0.0944,-0.25),(0.0958,0.78),(0.0972,-0.69),
 (0.099,0.44),(0.1,-0.37),(0.1022,-0.06),(0.104,-0.90),(0.1055,0.25),(0.108,-0.50),(0.1092,-0.19),(0.1115,0.42),(0.113,-0.59),(0.1155,1.03),
 (0.117,0.06),(0.119,-0.31),(0.121,0.62),(0.124,-0.44),(0.126,-0.97),(0.128,0.19),(0.130,-0.22),(0.133,0.87),(0.135,-0.56),(0.138,-0.08),
 (0.139,-0.81),(0.143,0.36),(0.145,-0.44),(0.148,-1.25),(0.148,-0.06),(0.153,-0.87),(0.154,-0.31),(0.158,0.14),(0.160,1.05),(0.162,-0.56),
 (0.165,0.69),(0.168,-0.09),(0.172,-0.87),(0.176,-0.41),(0.181,0.08),(0.188,-0.69),(0.195,-0.09),(0.200,-0.56),(0.207,0.56),(0.213,-0.09),
 (0.222,-0.47),(0.23,-0.19),(0.237,-0.87),(0.24,-0.76),(0.243,0.16),(0.253,-0.53),(0.291,-0.16),(0.32,-0.16),(0.37,-0.15),
 (0.024,-0.10),(0.027,-0.30),(0.030,-0.48),(0.033,-0.12),(0.036,-0.42),(0.040,-0.58),(0.043,-0.20),(0.047,-0.52),(0.050,-0.35),(0.054,-0.65),
 (0.058,-0.45),(0.062,-0.28),(0.066,-0.62),(0.070,-0.50),(0.075,-0.42),(0.080,-0.58),(0.085,-0.66),(0.090,-0.45),(0.096,-0.55),(0.103,-0.68),
 (0.110,-0.40),(0.118,-0.60),(0.128,-0.50),(0.140,-0.62),(0.028,0.25),(0.035,0.20),(0.045,0.15),(0.065,0.22),(0.090,0.20),(0.120,0.10),
]
p6_more = [
 (0.0105,0.10),(0.0115,0.55),(0.0125,-0.20),(0.0135,0.40),(0.0145,0.05),(0.0155,0.62),(0.0165,-0.40),(0.0175,0.25),(0.0185,-0.15),(0.0195,0.50),
 (0.0205,-0.05),(0.0215,0.15),(0.0225,-0.45),(0.0235,0.35),(0.0245,-0.25),(0.0255,0.10),(0.0265,-0.60),(0.0275,0.40),(0.0285,-0.15),(0.0295,0.20),
 (0.0305,-0.50),(0.0315,0.25),(0.0325,-0.35),(0.0335,0.08),(0.0345,-0.65),(0.0355,0.35),(0.0365,-0.10),(0.0375,0.15),(0.0385,-0.40),(0.0395,0.40),
 (0.0405,-0.70),(0.0415,0.05),(0.0425,-0.30),(0.0435,0.22),(0.0445,-0.50),(0.0455,-0.12),(0.0465,0.30),(0.0475,-0.62),(0.0485,0.08),(0.0495,-0.35),
 (0.051,0.42),(0.053,-0.78),(0.055,-0.18),(0.057,0.22),(0.059,-0.48),(0.061,0.10),(0.063,-0.68),(0.065,-0.22),(0.067,0.35),(0.069,-0.58),
 (0.071,0.00),(0.073,-0.80),(0.075,0.25),(0.077,-0.45),(0.079,-0.15),(0.081,0.45),(0.083,-0.62),(0.085,-0.28),(0.087,0.12),(0.089,-0.85),
 (0.091,-0.40),(0.093,0.30),(0.095,-0.65),(0.097,-0.10),(0.099,0.20),(0.102,-0.52),(0.105,0.40),(0.108,-0.75),(0.111,-0.25),(0.114,0.12),
 (0.117,-0.60),(0.120,0.30),(0.123,-0.40),(0.127,-0.70),(0.131,0.05),(0.136,-0.50),(0.141,0.25),(0.146,-0.65),(0.152,0.02),(0.158,-0.42),
 (0.164,-0.75),(0.170,0.30),(0.178,-0.30),(0.186,-0.58),(0.195,0.15),(0.205,-0.40),(0.215,-0.70),(0.23,-0.30),(0.26,-0.60),(0.018,-0.55),
 (0.016,-0.20),(0.014,0.48),(0.012,-0.35),(0.022,0.62),(0.032,0.55),
]
p6_fit_x = [0.00094, 0.0015, 0.0026, 0.0044, 0.0071, 0.01, 0.0148, 0.0208, 0.0273, 0.0335, 0.044, 0.0574, 0.0752, 0.1055, 0.148, 0.207, 0.28, 0.367]
p6_fit = [0.82, 0.75, 0.64, 0.51, 0.39, 0.30, 0.16, 0.05, -0.02, -0.08, -0.16, -0.19, -0.18, -0.18, -0.22, -0.27, -0.30, -0.34]
p6_hi = [1.22, 0.92, 0.72, 0.59, 0.44, 0.34, 0.20, 0.09, 0.02, -0.04, -0.11, -0.14, -0.13, -0.12, -0.14, -0.14, -0.10, -0.03]
p6_lo = [0.42, 0.47, 0.53, 0.44, 0.34, 0.25, 0.11, 0.00, -0.06, -0.12, -0.20, -0.23, -0.23, -0.23, -0.29, -0.39, -0.50, -0.67]

# ---------------- Labels ----------------
y_titles = ["δ S2S<sub>S</sub> Sa(0.2) ln g", "δ S2S<sub>S</sub> Sa(1) ln g"]
x_titles = ["Observed V<sub>S30</sub> m\u2009/\u2009s", "Inferred V<sub>S30</sub> m\u2009/\u2009s", "Slope m\u2009/\u2009m"]
vs_ticks = [100, 300, 1000]
vs_ticktext = ["100", "300", "1000"]
slope_ticks = [0.001, 0.01, 0.1]
slope_ticktext = ["0.001", "0.010", "0.100"]
y_ticks = [-1, 0, 1]
y_ticktext = ["\u22121", "0", "1"]

# ---------------- Layout geometry (pixels of the 1286x888 canvas) ----------------
W, H = 1286, 888
col_px = [(91, 415), (525, 848), (958, 1281)]
row_px = [(6, 358), (461, 812)]

def xdom(c):
    return [col_px[c][0] / W, col_px[c][1] / W]

def ydom(r):
    return [1 - row_px[r][1] / H, 1 - row_px[r][0] / H]

def unzip(pts):
    return [p[0] for p in pts], [p[1] for p in pts]

panels = [
    dict(pts=p1_pts + p1_more, cols=None, fx=p1_fit_x, f=p1_fit, hi=p1_hi, lo=p1_lo, kind="vs"),
    dict(pts=p2_pts + p2_more, cols=(p2_col1_y, p2_col2_y), fx=p2_fit_x, f=p2_fit, hi=p2_hi, lo=p2_lo, kind="vs"),
    dict(pts=p3_pts + p3_more, cols=None, fx=p3_fit_x, f=p3_fit, hi=p3_hi, lo=p3_lo, kind="slope"),
    dict(pts=p4_pts + p4_more, cols=None, fx=p4_fit_x, f=p4_fit, hi=p4_hi, lo=p4_lo, kind="vs"),
    dict(pts=p5_pts + p5_more, cols=(p5_col1_y, p5_col2_y), fx=p5_fit_x, f=p5_fit, hi=p5_hi, lo=p5_lo, kind="vs"),
    dict(pts=p6_pts + p6_more, cols=None, fx=p6_fit_x, f=p6_fit, hi=p6_hi, lo=p6_lo, kind="slope"),
]

fig = go.Figure()
layout = dict(width=W, height=H, margin=dict(l=0, r=0, t=0, b=0),
              paper_bgcolor="white", plot_bgcolor="white", showlegend=False,
              font=dict(family=FONT))
annotations = []

AX_COMMON = dict(showline=True, linecolor="#333333", linewidth=1.3, mirror=True,
                 ticks="outside", ticklen=6, tickwidth=1.3, tickcolor="#333333",
                 showgrid=True, gridcolor="#EBEBEB", gridwidth=1.6, zeroline=False,
                 tickfont=dict(family=FONT, size=21, color="#4D4D4D"))

for i, p in enumerate(panels):
    r, c = divmod(i, 3)
    n = "" if i == 0 else str(i + 1)
    xa, ya = "x" + n, "y" + n
    xs, ys = unzip(p["pts"])
    if p["cols"] is not None:
        for lev, cy in zip(inferred_levels, p["cols"]):
            xs = xs + [lev] * len(cy)
            ys = ys + list(cy)
    fig.add_trace(go.Scatter(x=xs, y=ys, mode="markers", xaxis=xa, yaxis=ya,
                             marker=dict(color="black", size=3.9, line=dict(width=0)),
                             hoverinfo="skip"))
    fig.add_trace(go.Scatter(x=p["fx"], y=p["hi"], mode="lines", xaxis=xa, yaxis=ya,
                             line=dict(width=0, shape="spline"), hoverinfo="skip"))
    fig.add_trace(go.Scatter(x=p["fx"], y=p["lo"], mode="lines", xaxis=xa, yaxis=ya,
                             line=dict(width=0, shape="spline"), fill="tonexty",
                             fillcolor="rgba(153,153,153,0.45)", hoverinfo="skip"))
    fig.add_trace(go.Scatter(x=p["fx"], y=p["f"], mode="lines", xaxis=xa, yaxis=ya,
                             line=dict(color="#3F5FB5", width=3.8, shape="spline"),
                             hoverinfo="skip"))

    if p["kind"] == "vs":
        xcfg = dict(type="log", range=[1.9415, 3.233], tickvals=vs_ticks, ticktext=vs_ticktext,
                    minor=dict(tickvals=[173.2, 547.7], showgrid=True, gridcolor="#EBEBEB", gridwidth=0.9))
    else:
        xcfg = dict(type="log", range=[-3.161, -0.316], tickvals=slope_ticks, ticktext=slope_ticktext,
                    minor=dict(tickvals=[0.00316, 0.0316, 0.316], showgrid=True, gridcolor="#EBEBEB", gridwidth=0.9))
    xcfg.update(AX_COMMON)
    xcfg.update(domain=xdom(c), anchor=ya)
    ycfg = dict(range=[-1.644, 1.647], tickvals=y_ticks, ticktext=y_ticktext,
                minor=dict(tickvals=[-1.5, -0.5, 0.5, 1.5], showgrid=True, gridcolor="#EBEBEB", gridwidth=0.9))
    ycfg.update(AX_COMMON)
    ycfg.update(domain=ydom(r), anchor=xa)
    layout["xaxis" + n] = xcfg
    layout["yaxis" + n] = ycfg

    # axis titles
    cx = (col_px[c][0] + col_px[c][1]) / 2 / W
    ty = 1 - (row_px[r][1] + 55) / H
    annotations.append(dict(text=x_titles[c], x=cx, y=ty, xref="paper", yref="paper",
                            showarrow=False, xanchor="center", yanchor="middle",
                            font=dict(family=FONT, size=27, color="black")))
    tx = (col_px[c][0] - 63) / W
    cy = 1 - (row_px[r][0] + row_px[r][1]) / 2 / H
    annotations.append(dict(text=y_titles[r], x=tx, y=cy, xref="paper", yref="paper",
                            showarrow=False, xanchor="center", yanchor="middle", textangle=-90,
                            font=dict(family=FONT, size=26, color="black")))

layout["annotations"] = annotations
fig.update_layout(**layout)
fig.write_html("out.html")
